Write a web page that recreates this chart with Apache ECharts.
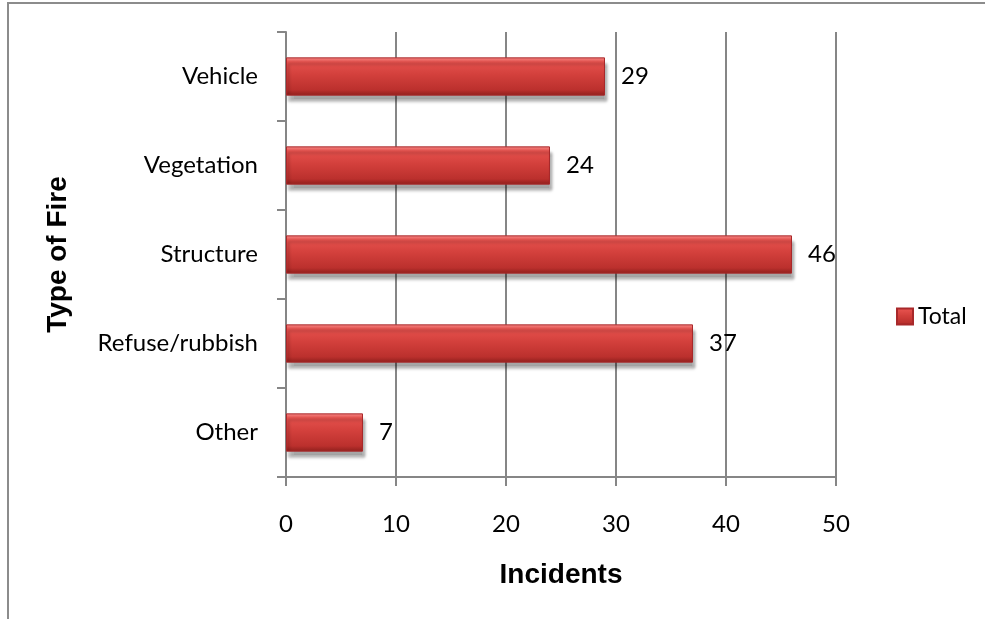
<!DOCTYPE html>
<html>
<head>
<meta charset="utf-8">
<script src="https://cdn.jsdelivr.net/npm/echarts@6/dist/echarts.min.js"></script>
<style>
html,body{margin:0;padding:0;background:#fff;}
#chart{width:985px;height:619px;}
</style>
</head>
<body>
<div id="chart"></div>
<script>
const categories = ['Other', 'Refuse/rubbish', 'Structure', 'Vegetation', 'Vehicle'];
const totals = [7, 37, 46, 24, 29];
const seriesName = 'Total';
const xAxisTitle = 'Incidents';
const yAxisTitle = 'Type of Fire';

const chart = echarts.init(document.getElementById('chart'));
const barFill = new echarts.graphic.LinearGradient(0, 0, 0, 1, [
  {offset: 0, color: '#f58a88'},
  {offset: 0.12, color: '#e5514d'},
  {offset: 0.45, color: '#d3403c'},
  {offset: 0.85, color: '#bb302d'},
  {offset: 1, color: '#8e1f1c'}
]);
const labelFont = 'Lato, "Open Sans", sans-serif';
chart.setOption({
  animation: false,
  backgroundColor: '#fff',
  graphic: [{
    type: 'rect',
    shape: {x: 8, y: 3, width: 1200, height: 1000},
    style: {fill: 'none', stroke: '#8c8c8c', lineWidth: 2},
    silent: true
  }],
  grid: {left: 286, right: 149, top: 32, bottom: 142, containLabel: false},
  legend: {
    data: [seriesName],
    left: 891, top: 300,
    orient: 'vertical',
    itemWidth: 16, itemHeight: 16,
    icon: 'rect',
    textStyle: {fontFamily: labelFont, fontSize: 23, color: '#000'}
  },
  xAxis: {
    type: 'value', min: 0, max: 50, interval: 10,
    name: xAxisTitle, nameLocation: 'middle', nameGap: 84,
    nameTextStyle: {fontFamily: '"Liberation Sans", Arial, sans-serif', fontWeight: 'bold', fontSize: 28, color: '#000'},
    axisLine: {show: true, lineStyle: {color: '#868686', width: 2}},
    axisTick: {show: true, length: 9, lineStyle: {color: '#868686', width: 2}},
    axisLabel: {margin: 35, fontFamily: labelFont, fontSize: 24, color: '#000'},
    splitLine: {show: true, lineStyle: {color: '#868686', width: 2}}
  },
  yAxis: {
    type: 'category', data: categories,
    name: yAxisTitle, nameLocation: 'middle', nameGap: 214, nameRotate: 90,
    nameTextStyle: {fontFamily: '"Liberation Sans", Arial, sans-serif', fontWeight: 'bold', fontSize: 28, color: '#000'},
    axisLine: {show: true, lineStyle: {color: '#868686', width: 2}},
    axisTick: {show: true, length: 9, inside: false, lineStyle: {color: '#868686', width: 2}},
    axisLabel: {margin: 28, fontFamily: labelFont, fontSize: 24, color: '#000'},
    splitLine: {show: false}
  },
  series: [{
    name: seriesName,
    type: 'bar',
    data: totals,
    barWidth: '43%',
    itemStyle: {
      color: barFill,
      borderColor: '#a8282a', borderWidth: 1,
      shadowColor: 'rgba(0,0,0,0.35)', shadowBlur: 3, shadowOffsetX: 2, shadowOffsetY: 6
    },
    label: {show: true, position: 'right', distance: 16, fontFamily: labelFont, fontSize: 24, color: '#000'}
  }]
});
</script>
</body>
</html>
